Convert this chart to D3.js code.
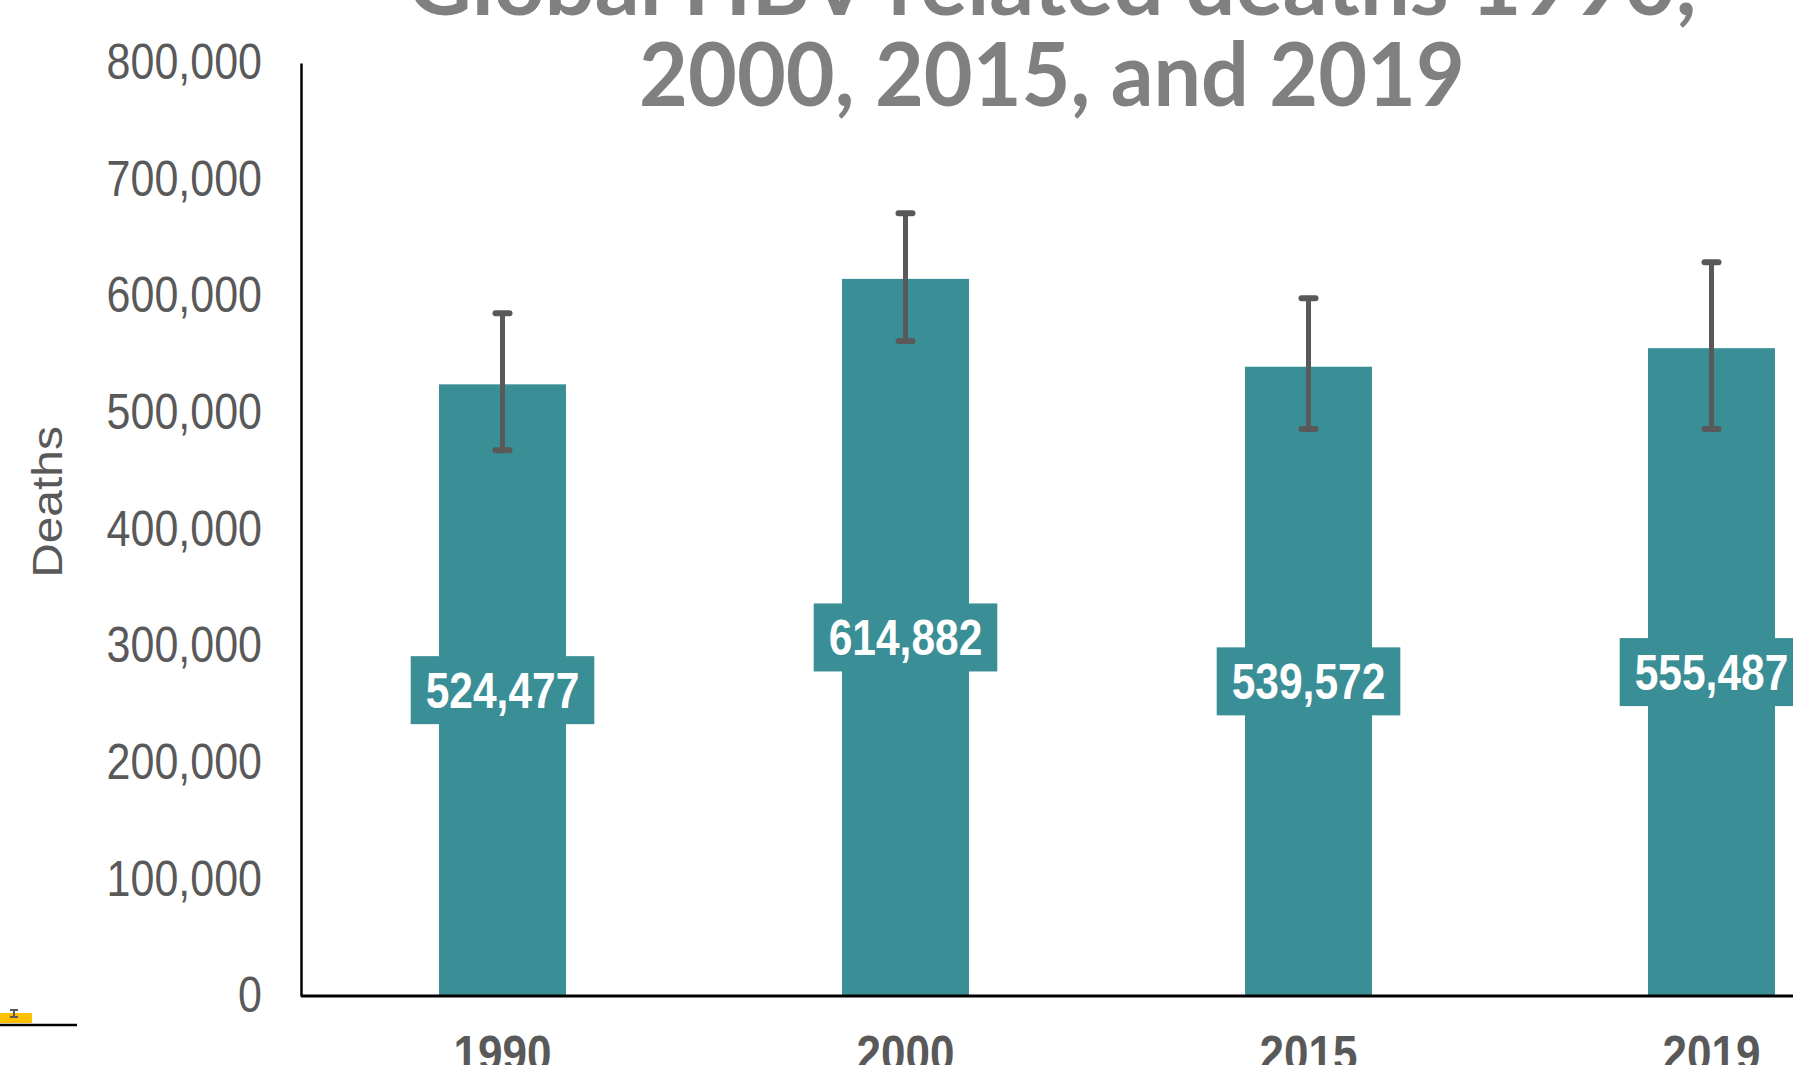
<!DOCTYPE html>
<html>
<head>
<meta charset="utf-8">
<script src="https://cdn.jsdelivr.net/npm/d3@7.9.0/dist/d3.min.js"></script>
<style>
  html, body { margin: 0; padding: 0; background: #fff; overflow: hidden; }
  svg { display: block; }
</style>
</head>
<body>
<svg id="chart"></svg>
<script>
const width = 1793;
const height = 1065;

// Data
const years = ["1990", "2000", "2015", "2019"];
const deaths = [524477, 614882, 539572, 555487];
const lowerCI = [467900, 561600, 486200, 486200];
const upperCI = [585400, 671100, 598200, 629100];
const yTicks = [0, 100000, 200000, 300000, 400000, 500000, 600000, 700000, 800000];
const titleLines = ["Global HBV related deaths 1990,", "2000, 2015, and 2019"];

const barColor = "#3a8e96";
const greyText = "#595959";
const stretchY = 1.14; // the source picture is stretched vertically

const svg = d3.select("#chart").attr("width", width).attr("height", height);

const y = d3.scaleLinear().domain([0, 800000]).range([996, 63]);
const x = d3.scaleBand().domain(years).range([301, 1913])
    .paddingInner(0.685).paddingOuter(0.3425);

// y axis
const yAxis = svg.append("g")
    .attr("transform", "translate(301,0)")
    .call(d3.axisLeft(y).tickValues(yTicks).tickSize(0).tickSizeOuter(0)
        .tickPadding(39).tickFormat(d3.format(",")));
yAxis.select(".domain").attr("stroke", "#000").attr("stroke-width", 2.5);
yAxis.selectAll("text")
    .attr("fill", greyText)
    .style("font-family", "'Liberation Sans', Arial, sans-serif")
    .style("font-size", "43px")
    .attr("transform", `scale(1,${stretchY})`);

// bars
svg.append("g").selectAll("rect")
    .data(years)
    .join("rect")
    .attr("x", d => x(d))
    .attr("width", x.bandwidth())
    .attr("y", (d, i) => y(deaths[i]))
    .attr("height", (d, i) => y(0) - y(deaths[i]))
    .attr("fill", barColor);

// x axis baseline
svg.append("line")
    .attr("x1", 301).attr("x2", width)
    .attr("y1", y(0)).attr("y2", y(0))
    .attr("stroke", "#000").attr("stroke-width", 3);

// error bars
const err = svg.append("g").attr("stroke", greyText);
years.forEach((yr, i) => {
    const cx = x(yr) + x.bandwidth() / 2;
    err.append("line")
        .attr("x1", cx).attr("x2", cx)
        .attr("y1", y(lowerCI[i])).attr("y2", y(upperCI[i]))
        .attr("stroke-width", 5);
    [lowerCI[i], upperCI[i]].forEach(v => {
        err.append("line")
            .attr("x1", cx - 7).attr("x2", cx + 7)
            .attr("y1", y(v)).attr("y2", y(v))
            .attr("stroke-width", 6)
            .attr("stroke-linecap", "round");
    });
});

// value labels in boxes at mid-bar
years.forEach((yr, i) => {
    const cx = x(yr) + x.bandwidth() / 2;
    const cy = (y(deaths[i]) + y(0)) / 2;
    const g = svg.append("g").attr("transform", `translate(${cx},${cy})`);
    const box = g.append("rect").attr("fill", barColor);
    const t = g.append("text")
        .attr("text-anchor", "middle")
        .attr("dy", "0.36em")
        .attr("fill", "#fff")
        .style("font-family", "'Liberation Sans', Arial, sans-serif")
        .style("font-weight", "bold")
        .style("font-size", "50px")
        .attr("transform", "scale(0.85,1)")
        .text(d3.format(",")(deaths[i]));
    const w = t.node().getComputedTextLength() * 0.85 + 30;
    box.attr("x", -w / 2).attr("width", w).attr("y", -34).attr("height", 68);
});

// year labels (cut by the bottom edge, as in the source)
svg.append("g").selectAll("text")
    .data(years)
    .join("text")
    .attr("transform", d => `translate(${x(d) + x.bandwidth() / 2},1071) scale(1,${stretchY})`)
    .attr("text-anchor", "middle")
    .attr("fill", greyText)
    .style("font-family", "'Liberation Sans', Arial, sans-serif")
    .style("font-weight", "bold")
    .style("font-size", "44px")
    .text(d => d);

// y axis title
svg.append("text")
    .attr("transform", `translate(47,502) rotate(-90) scale(${stretchY},1)`)
    .attr("text-anchor", "middle")
    .attr("dy", "0.36em")
    .attr("fill", greyText)
    .style("font-family", "'Liberation Sans', Arial, sans-serif")
    .style("font-size", "42px")
    .text("Deaths");

// title, two lines, top line cut off by the top edge
const titleBase = [15, 106];
const titleWidth = [1289, 826];
titleLines.forEach((line, i) => {
    const t = svg.append("text")
        .attr("text-anchor", "middle")
        .attr("fill", "#808080")
        .style("font-family", "Lato, 'Open Sans', sans-serif")
        .style("font-weight", "bold")
        .style("font-size", "88px")
        .text(line);
    const sx = titleWidth[i] / t.node().getComputedTextLength();
    t.attr("transform", `translate(1052,${titleBase[i]}) scale(${sx},1)`);
});

// stray fragment of another chart at the bottom-left corner
svg.append("rect").attr("x", 0).attr("y", 1013).attr("width", 32).attr("height", 10).attr("fill", "#ffc000");
svg.append("line").attr("x1", 0).attr("x2", 77).attr("y1", 1025).attr("y2", 1025)
    .attr("stroke", "#000").attr("stroke-width", 2.5);
const frag = svg.append("g").attr("stroke", greyText).attr("stroke-width", 2);
frag.append("line").attr("x1", 14).attr("x2", 14).attr("y1", 1010).attr("y2", 1017);
frag.append("line").attr("x1", 10).attr("x2", 18).attr("y1", 1010).attr("y2", 1010);
frag.append("line").attr("x1", 10).attr("x2", 18).attr("y1", 1017).attr("y2", 1017);
</script>
</body>
</html>
